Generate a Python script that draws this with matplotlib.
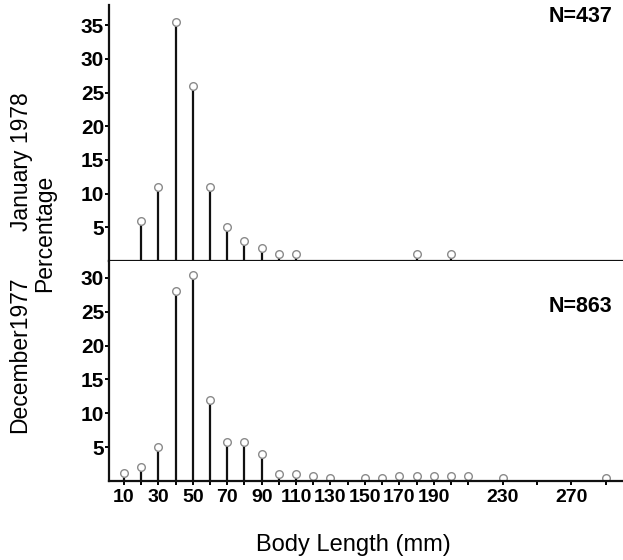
import matplotlib.pyplot as plt

# Body length classes (mm) and percentages
jan_length = [20, 30, 40, 50, 60, 70, 80, 90, 100, 110, 180, 200]
jan_pct = [6, 11, 35.5, 26, 11, 5, 3, 1.9, 1, 1, 1, 1.1]

dec_length = [10, 20, 30, 40, 50, 60, 70, 80, 90, 100, 110, 120, 130,
              150, 160, 170, 180, 190, 200, 210, 230, 290]
dec_pct = [1.2, 2, 5, 28, 30.5, 12, 5.8, 5.8, 4, 1, 1, 0.8, 0.5,
           0.5, 0.5, 0.7, 0.7, 0.7, 0.7, 0.7, 0.4, 0.5]

jan_yticks = [5, 10, 15, 20, 25, 30, 35]
dec_yticks = [5, 10, 15, 20, 25, 30]
x_ticks = [10, 20, 30, 40, 50, 60, 70, 80, 90, 100, 110, 120, 130, 140,
           150, 160, 170, 180, 190, 200, 210, 230, 250, 270, 290]
x_labelled = [10, 30, 50, 70, 90, 110, 130, 150, 170, 190, 230, 270]

SANS = ["Liberation Sans", "DejaVu Sans"]


def draw_panel(ax, xs, ys, yticks, ymax, n_label, n_y):
    ax.vlines(xs, 0, ys, color="#111111", linewidth=1.6)
    ax.plot(xs, ys, "o", ms=5.5, mfc="white", mec="#8a8a8a", mew=1.0)
    ax.set_xlim(1.3, 300)
    ax.set_ylim(0, ymax)
    ax.set_yticks(yticks)
    ax.set_yticklabels([str(t) for t in yticks], family=SANS,
                       fontweight="bold", fontsize=15)
    ax.spines["top"].set_visible(False)
    ax.spines["right"].set_visible(False)
    for side in ["left", "bottom"]:
        ax.spines[side].set_linewidth(1.6)
        ax.spines[side].set_color("#111111")
    ax.tick_params(axis="y", direction="out", length=3, width=1.4, pad=0.5)
    ax.text(0.98, n_y, n_label, transform=ax.transAxes, ha="right", va="center",
            family=SANS, fontweight="bold", fontsize=15.5)


fig = plt.figure(figsize=(6.23, 5.6), dpi=100)

ax_top = fig.add_axes([0.175, 0.534, 0.825, 0.457])
draw_panel(ax_top, jan_length, jan_pct, jan_yticks, 38, "N=437", 0.955)
ax_top.set_xticks([])

ax_bot = fig.add_axes([0.175, 0.141, 0.825, 0.393])
draw_panel(ax_bot, dec_length, dec_pct, dec_yticks, 32.5, "N=863", 0.795)
ax_bot.set_xticks(x_ticks)
ax_bot.set_xticklabels([str(t) if t in x_labelled else "" for t in x_ticks],
                       family=SANS, fontweight="bold", fontsize=14)
ax_bot.tick_params(axis="x", direction="out", length=3, width=1.4, pad=3)

fig.text(0.035, 0.712, "January 1978", rotation=90, ha="center", va="center",
         family=SANS, fontsize=16.5)
fig.text(0.031, 0.366, "December1977", rotation=90, ha="center", va="center",
         family=SANS, fontsize=16.5)
fig.text(0.072, 0.584, "Percentage", rotation=90, ha="center", va="center",
         family=SANS, fontsize=16.5)
fig.text(0.567, 0.027, "Body Length (mm)", ha="center", va="center",
         family=SANS, fontsize=17)

fig.savefig("out.png", dpi=100)
